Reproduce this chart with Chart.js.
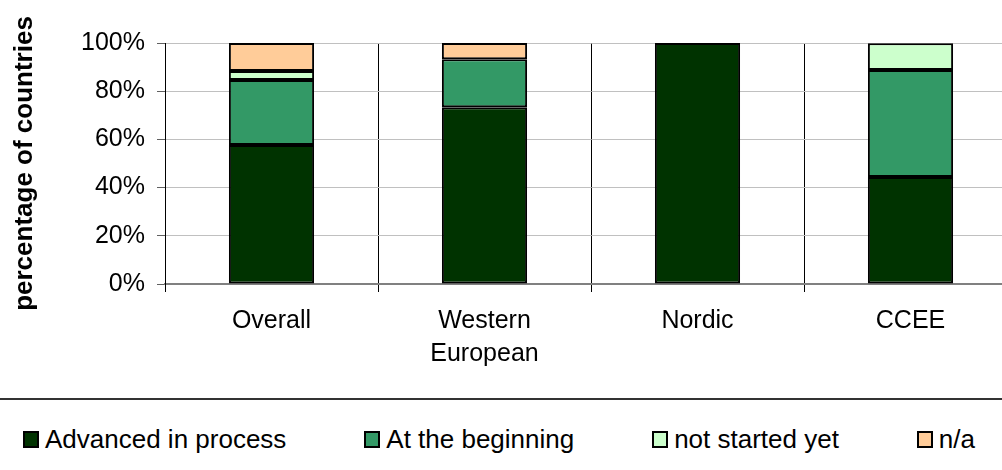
<!DOCTYPE html>
<html>
<head>
<meta charset="utf-8">
<script src="https://cdn.jsdelivr.net/npm/chart.js@4"></script>
<style>
  body { margin: 0; width: 1002px; height: 470px; overflow: hidden; background: #fff; font-family: 'Liberation Sans', Arial, sans-serif; }
  #wrap { position: absolute; left: 0; top: 0; width: 1020px; height: 398px; }
  #sep { position: absolute; left: 0; top: 398px; width: 1002px; border-top: 2px solid #333; }
  #legend { position: absolute; left: 23px; top: 425px; width: 952px; height: 28px; display: flex; justify-content: space-between; align-items: center; }
  .item { display: flex; align-items: center; font-size: 26px; color: #000; white-space: nowrap; }
  .box { box-sizing: border-box; width: 16px; height: 17px; border: 2px solid #000; margin-right: 6px; }
</style>
</head>
<body>
<div id="wrap"><canvas id="stackChart" width="1020" height="398"></canvas></div>
<div id="sep"></div>
<div id="legend"></div>
<script>
// categorías y valores (% de países)
const categories = ['Overall', ['Western', 'European'], 'Nordic', 'CCEE'];
const advanced = [57.7, 73.3, 100, 44.4];
const beginning = [26.9, 20.0, 0, 44.4];
const notStarted = [3.8, 0, 0, 11.1];
const notAvailable = [11.6, 6.7, 0, 0];
const yTicks = [0, 20, 40, 60, 80, 100];

const seriesNames = ['Advanced in process', 'At the beginning', 'not started yet', 'n/a'];
const seriesColors = ['#003300', '#339966', '#CCFFCC', '#FFCC99'];
const seriesData = [advanced, beginning, notStarted, notAvailable];

const font = "'Liberation Sans', Arial, sans-serif";

const ctx = document.getElementById('stackChart').getContext('2d');
const chart = new Chart(ctx, {
    type: 'bar',
    data: {
        labels: categories,
        datasets: seriesData.map(function (d, i) {
            return {
                label: seriesNames[i],
                data: d,
                backgroundColor: seriesColors[i],
                borderColor: '#000',
                borderWidth: 2,
                borderSkipped: false,
                categoryPercentage: 1,
                barPercentage: 0.4
            };
        })
    },
    options: {
        responsive: false,
        animation: false,
        layout: { padding: { top: 43, right: 3, left: 0, bottom: 0 } },
        plugins: {
            legend: { display: false },
            tooltip: { enabled: false }
        },
        scales: {
            x: {
                stacked: true,
                afterFit: function (scale) { scale.height = 114; },
                grid: { offset: true, color: '#000', lineWidth: 1, tickLength: 8, tickColor: '#000' },
                border: { color: '#808080', width: 2 },
                ticks: {
                    color: '#000',
                    padding: 13,
                    maxRotation: 0,
                    autoSkip: false,
                    font: { family: font, size: 25, lineHeight: 1.32 }
                }
            },
            y: {
                stacked: true,
                min: 0,
                max: 100,
                afterFit: function (scale) { scale.width = 165; },
                afterBuildTicks: function (scale) {
                    scale.ticks = yTicks.map(function (v) { return { value: v }; });
                },
                grid: { color: '#c0c0c0', lineWidth: 1, tickLength: 8, tickColor: '#606060' },
                border: { color: '#000', width: 1 },
                ticks: {
                    color: '#000',
                    padding: 12,
                    font: { family: font, size: 25 },
                    callback: function (v) { return v + '%'; }
                },
                title: {
                    display: true,
                    text: 'percentage of countries',
                    color: '#000',
                    padding: { top: 9, bottom: 0 },
                    font: { family: font, size: 26, weight: 'bold' }
                }
            }
        }
    }
});

// leyenda HTML
const legendEl = document.getElementById('legend');
chart.data.datasets.forEach(function (ds) {
    const item = document.createElement('div');
    item.className = 'item';
    const box = document.createElement('span');
    box.className = 'box';
    box.style.background = ds.backgroundColor;
    item.appendChild(box);
    item.appendChild(document.createTextNode(ds.label));
    legendEl.appendChild(item);
});
</script>
</body>
</html>
